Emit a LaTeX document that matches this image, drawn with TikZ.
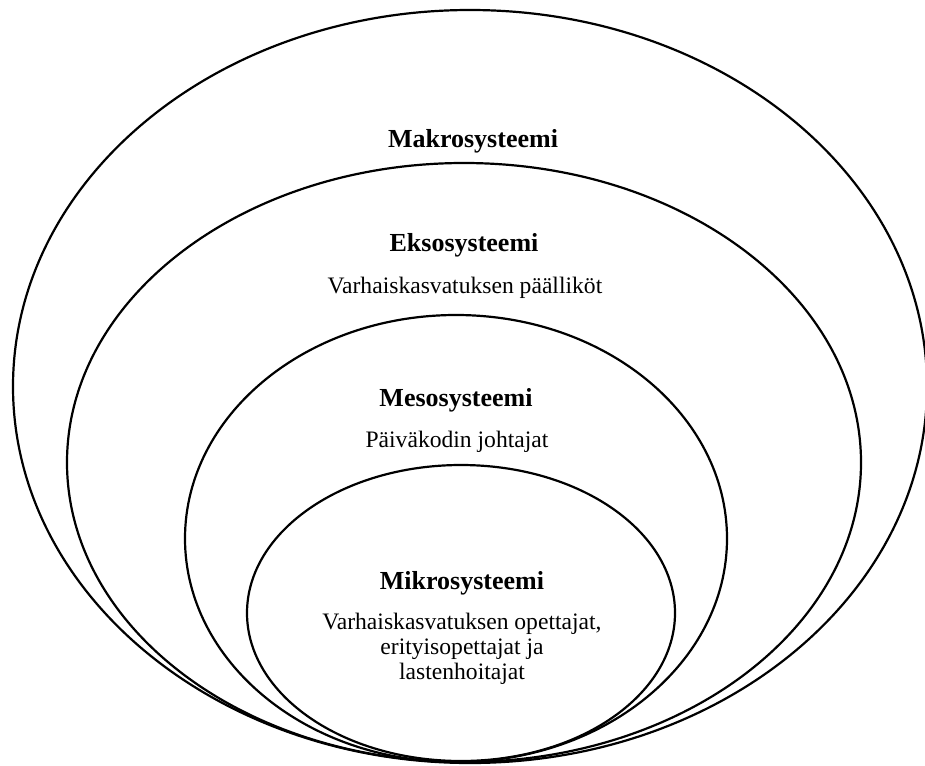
\documentclass[tikz,border=0pt]{standalone}
\usepackage{fontspec}
\setmainfont{Liberation Serif}
\begin{document}
\begin{tikzpicture}[x=1pt,y=-1pt,
  ring/.style={draw=black,line width=2.2pt},
  title/.style={font=\fontsize{26}{30}\selectfont\bfseries,inner sep=0pt,anchor=base},
  body/.style={font=\fontsize{23.6}{25}\selectfont,inner sep=0pt,anchor=base,align=center}]
\useasboundingbox (0,0) rectangle (925,765);
\fill[white] (0,0) rectangle (925,765);
\draw[ring] (470,386.5) ellipse [x radius=457, y radius=376.5];
\draw[ring] (464,462.5) ellipse [x radius=397, y radius=299.5];
\draw[ring] (456,538.5) ellipse [x radius=271, y radius=223.5];
\draw[ring] (461,613) ellipse [x radius=214, y radius=148];
\node[title] (makro) at (473,147) {Makrosysteemi};
\node[title] (ekso) at (464,251) {Eksosysteemi};
\node[body] (eksotxt) at (465,293) {Varhaiskasvatuksen päälliköt};
\node[title] (meso) at (456,406) {Mesosysteemi};
\node[body] (mesotxt) at (457,447) {Päiväkodin johtajat};
\node[title] (mikro) at (462,589) {Mikrosysteemi};
\node[body] (mikrotxt) at (462,679) {Varhaiskasvatuksen opettajat,\\erityisopettajat ja\\lastenhoitajat};
\end{tikzpicture}
\end{document}
